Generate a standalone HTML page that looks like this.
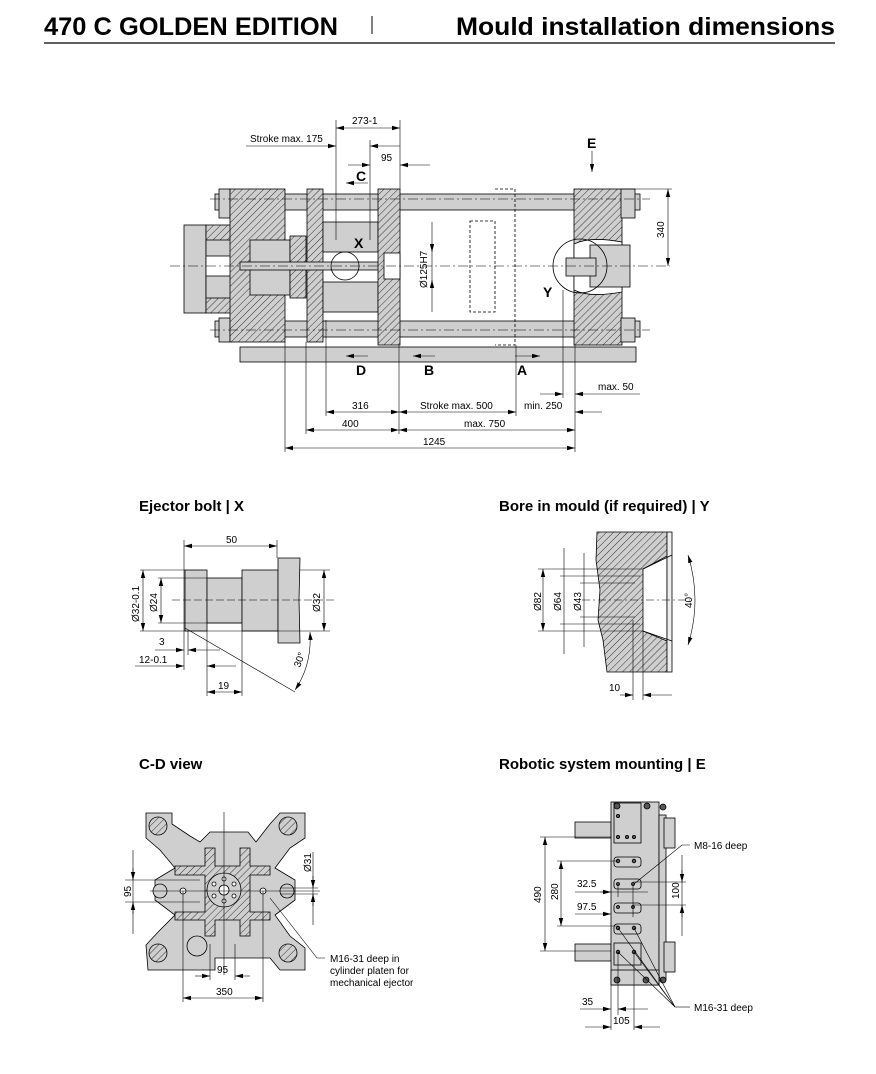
<!DOCTYPE html>
<html><head><meta charset="utf-8"><style>
html,body{margin:0;padding:0;background:#fff;}
svg{display:block;font-family:"Liberation Sans",sans-serif;}
</style></head><body>
<svg width="876" height="1074" viewBox="0 0 876 1074" xmlns="http://www.w3.org/2000/svg">
<defs>
<pattern id="h" width="5" height="5" patternUnits="userSpaceOnUse" patternTransform="rotate(45)">
<rect width="5" height="5" fill="#cfcfcf"/><line x1="0" y1="0" x2="0" y2="5" stroke="#333" stroke-width="1"/>
</pattern>
<marker id="a" markerWidth="8" markerHeight="6" refX="8" refY="3" orient="auto-start-reverse" markerUnits="userSpaceOnUse"><path d="M0,0.8 L8,3 L0,5.2z" fill="#000"/></marker>
</defs>
<!-- header -->
<text x="44" y="35" font-size="25" font-weight="bold" textLength="294" lengthAdjust="spacingAndGlyphs">470 C GOLDEN EDITION</text>
<line x1="372" y1="16" x2="372" y2="34" stroke="#000" stroke-width="1"/>
<text x="456" y="35" font-size="25" font-weight="bold" textLength="379" lengthAdjust="spacingAndGlyphs">Mould installation dimensions</text>
<line x1="44" y1="43" x2="835" y2="43" stroke="#000" stroke-width="1.2"/>

<g stroke="#000" stroke-width="0.8">
<!-- main drawing -->
<rect x="240" y="347" width="396" height="15" fill="#cfcfcf"/>
<rect x="215" y="194" width="425" height="16" fill="#cfcfcf"/>
<rect x="215" y="321" width="425" height="16" fill="#cfcfcf"/>
<rect x="184" y="225" width="22" height="88" fill="#cfcfcf"/>
<rect x="206" y="225" width="46" height="88" fill="url(#h)"/>
<rect x="206" y="240" width="46" height="58" fill="#cfcfcf"/>
<rect x="206" y="256" width="46" height="20" fill="#fff"/>
<rect x="219" y="189" width="11" height="29" fill="#cfcfcf"/>
<rect x="219" y="318" width="11" height="24" fill="#cfcfcf"/>
<rect x="230" y="189" width="55" height="153" fill="url(#h)"/>
<rect x="250" y="240" width="40" height="55" fill="#cfcfcf"/>
<rect x="290" y="236" width="16" height="62" fill="url(#h)"/>
<rect x="307" y="189" width="16" height="153" fill="url(#h)"/>
<rect x="323" y="222" width="55" height="30" fill="#cfcfcf"/>
<rect x="323" y="282" width="55" height="30" fill="#cfcfcf"/>
<rect x="240" y="262" width="150" height="8" fill="#cfcfcf"/>
<rect x="378" y="189" width="22" height="156" fill="url(#h)"/>
<rect x="384" y="253" width="16" height="26" fill="#fff"/>
<circle cx="345" cy="266" r="14" fill="none"/>
<rect x="574" y="189" width="48" height="156" fill="url(#h)"/>
<path d="M574,244 Q590,236 622,242 L622,292 Q590,298 574,290z" fill="#fff"/>
<rect x="590" y="245" width="40" height="42" fill="#cfcfcf"/>
<rect x="566" y="258" width="30" height="18" fill="#cfcfcf"/>
<rect x="621" y="189" width="14" height="29" fill="#cfcfcf"/>
<rect x="621" y="318" width="14" height="24" fill="#cfcfcf"/>
<circle cx="580" cy="266" r="27" fill="none"/>
<g fill="none" stroke-dasharray="3,2">
<path d="M470,221 L495,221 L495,312 L470,312z"/>
<path d="M495,189 L515,189 L515,345 L495,345"/>
</g>
</g>
<g stroke="#000" stroke-width="0.6" fill="none">
<line x1="170" y1="266" x2="670" y2="266" stroke-dasharray="10,3,2,3"/>
<line x1="210" y1="199" x2="650" y2="199" stroke-dasharray="10,3,2,3"/>
<line x1="210" y1="330" x2="650" y2="330" stroke-dasharray="10,3,2,3"/>
<!-- vertical ext lines -->
<line x1="285" y1="342" x2="285" y2="452"/><line x1="306" y1="342" x2="306" y2="434"/>
<line x1="326" y1="320" x2="326" y2="416"/><line x1="399" y1="345" x2="399" y2="434"/>
<line x1="516" y1="345" x2="516" y2="416"/><line x1="563" y1="290" x2="563" y2="398"/>
<line x1="575" y1="345" x2="575" y2="452"/>
<line x1="336" y1="120" x2="336" y2="240"/><line x1="400" y1="120" x2="400" y2="190"/>
<line x1="370" y1="140" x2="370" y2="240"/>
<!-- dims -->
<line x1="563" y1="394" x2="540" y2="394" marker-start="url(#a)"/><line x1="575" y1="394" x2="640" y2="394" marker-start="url(#a)"/>
<line x1="326" y1="412" x2="399" y2="412" marker-start="url(#a)" marker-end="url(#a)"/>
<line x1="399" y1="412" x2="516" y2="412" marker-start="url(#a)" marker-end="url(#a)"/>
<line x1="575" y1="412" x2="602" y2="412" marker-start="url(#a)"/>
<line x1="306" y1="430" x2="399" y2="430" marker-start="url(#a)" marker-end="url(#a)"/>
<line x1="399" y1="430" x2="575" y2="430" marker-start="url(#a)" marker-end="url(#a)"/>
<line x1="285" y1="448" x2="575" y2="448" marker-start="url(#a)" marker-end="url(#a)"/>
<line x1="336" y1="128" x2="400" y2="128" marker-start="url(#a)" marker-end="url(#a)"/>
<line x1="246" y1="146" x2="336" y2="146" marker-end="url(#a)"/>
<line x1="370" y1="146" x2="400" y2="146" marker-start="url(#a)"/>
<line x1="348" y1="165" x2="370" y2="165" marker-end="url(#a)"/>
<line x1="400" y1="165" x2="430" y2="165" marker-start="url(#a)"/>
<line x1="368" y1="183" x2="346" y2="183" marker-end="url(#a)"/>
<line x1="368" y1="356" x2="346" y2="356" marker-end="url(#a)"/>
<line x1="435" y1="356" x2="413" y2="356" marker-end="url(#a)"/>
<line x1="515" y1="356" x2="540" y2="356" marker-end="url(#a)"/>
<line x1="592" y1="151" x2="592" y2="172" marker-end="url(#a)"/>
<line x1="432" y1="222" x2="432" y2="312"/>
<line x1="432" y1="244" x2="432" y2="252" marker-end="url(#a)"/><line x1="432" y1="288" x2="432" y2="280" marker-end="url(#a)"/>
<line x1="622" y1="189" x2="672" y2="189"/>
<line x1="668" y1="189" x2="668" y2="266" marker-start="url(#a)" marker-end="url(#a)"/>
</g>
<g font-size="10">
<text x="352" y="124">273-1</text>
<text x="250" y="142">Stroke max. 175</text>
<text x="381" y="161">95</text>
<text x="598" y="390">max. 50</text>
<text x="352" y="409">316</text>
<text x="420" y="409">Stroke max. 500</text>
<text x="524" y="409">min. 250</text>
<text x="342" y="427">400</text>
<text x="464" y="427">max. 750</text>
<text x="423" y="445">1245</text>
<text transform="translate(427,288) rotate(-90)">Ø125H7</text>
<text transform="translate(664,238) rotate(-90)">340</text>
</g>
<g font-size="14" font-weight="bold">
<text x="356" y="181">C</text><text x="356" y="375">D</text><text x="424" y="375">B</text><text x="517" y="375">A</text>
<text x="354" y="248">X</text><text x="543" y="297">Y</text><text x="587" y="148">E</text>
</g>

<!-- section titles -->
<g font-size="15" font-weight="bold">
<text x="139" y="511">Ejector bolt | X</text>
<text x="499" y="511">Bore in mould (if required) | Y</text>
<text x="139" y="769">C-D view</text>
<text x="499" y="769">Robotic system mounting | E</text>
</g>

<!-- Ejector bolt -->
<g stroke="#000" stroke-width="0.8">
<rect x="185" y="570" width="22" height="61" fill="#cfcfcf"/>
<rect x="207" y="578" width="35" height="45" fill="#cfcfcf"/>
<rect x="242" y="570" width="36" height="61" fill="#cfcfcf"/>
<path d="M278,558 L300,558 L299,600 L300,643 L278,643z" fill="#cfcfcf"/>
</g>
<g stroke="#000" stroke-width="0.6" fill="none">
<line x1="172" y1="600" x2="335" y2="600" stroke-dasharray="8,3"/>
<line x1="184" y1="540" x2="184" y2="670"/><line x1="277" y1="540" x2="277" y2="558"/>
<line x1="184" y1="546" x2="277" y2="546" marker-start="url(#a)" marker-end="url(#a)"/>
<line x1="140" y1="570" x2="185" y2="570"/><line x1="140" y1="631" x2="330" y2="631"/>
<line x1="158" y1="578" x2="207" y2="578"/><line x1="158" y1="623" x2="242" y2="623"/>
<line x1="300" y1="570" x2="330" y2="570"/>
<line x1="143" y1="570" x2="143" y2="631" marker-start="url(#a)" marker-end="url(#a)"/>
<line x1="161" y1="578" x2="161" y2="623" marker-start="url(#a)" marker-end="url(#a)"/>
<line x1="324" y1="570" x2="324" y2="631" marker-start="url(#a)" marker-end="url(#a)"/>
<line x1="185" y1="628" x2="295" y2="692"/>
<line x1="188" y1="631" x2="188" y2="655"/>
<line x1="155" y1="650" x2="184" y2="650" marker-end="url(#a)"/><line x1="220" y1="650" x2="188" y2="650" marker-end="url(#a)"/>
<line x1="135" y1="666" x2="184" y2="666" marker-end="url(#a)"/><line x1="236" y1="666" x2="207" y2="666" marker-end="url(#a)"/>
<line x1="207" y1="631" x2="207" y2="696"/><line x1="242" y1="631" x2="242" y2="696"/>
<line x1="207" y1="692" x2="242" y2="692" marker-start="url(#a)" marker-end="url(#a)"/>
<path d="M310,632 Q312,665 295,690" marker-start="url(#a)" marker-end="url(#a)"/>
</g>
<g font-size="10">
<text x="226" y="543">50</text>
<text transform="translate(139,622) rotate(-90)">Ø32-0.1</text>
<text transform="translate(157,612) rotate(-90)">Ø24</text>
<text transform="translate(320,612) rotate(-90)">Ø32</text>
<text x="159" y="645">3</text><text x="139" y="663">12-0.1</text><text x="218" y="689">19</text>
<text transform="translate(300,668) rotate(-70)">30°</text>
</g>

<!-- Bore -->
<g stroke="#000" stroke-width="0.8">
<path d="M597,532 L667,532 L667,672 L607,672 L603,640 L598,620 L600,590 L596,560z" fill="url(#h)"/>
<path d="M643,569 L667,556 L667,641 L643,631z" fill="#fff"/>
<rect x="667" y="532" width="5" height="140" fill="#eee"/>
<path d="M643,569 L672,555 M643,631 L672,641" fill="none"/>
</g>
<g stroke="#000" stroke-width="0.6" fill="none">
<line x1="582" y1="600" x2="690" y2="600" stroke-dasharray="8,3,2,3"/>
<line x1="538" y1="569" x2="643" y2="569"/><line x1="538" y1="631" x2="643" y2="631"/>
<line x1="560" y1="576" x2="640" y2="576"/><line x1="560" y1="624" x2="640" y2="624"/>
<line x1="580" y1="583" x2="635" y2="583"/><line x1="580" y1="617" x2="635" y2="617"/>
<line x1="543" y1="569" x2="543" y2="631" marker-start="url(#a)" marker-end="url(#a)"/>
<line x1="564" y1="548" x2="564" y2="654"/>
<line x1="584" y1="553" x2="584" y2="647"/>
<line x1="633" y1="620" x2="633" y2="700"/><line x1="643" y1="631" x2="643" y2="700"/>
<line x1="620" y1="695" x2="633" y2="695" marker-end="url(#a)"/><line x1="672" y1="695" x2="643" y2="695" marker-end="url(#a)"/>
<path d="M688,555 Q702,600 688,645" marker-start="url(#a)" marker-end="url(#a)"/>
</g>
<g font-size="10">
<text transform="translate(541,611) rotate(-90)">Ø82</text>
<text transform="translate(561,611) rotate(-90)">Ø64</text>
<text transform="translate(581,611) rotate(-90)">Ø43</text>
<text transform="translate(692,608) rotate(-90)">40°</text>
<text x="609" y="691">10</text>
</g>

<!-- C-D view -->
<g stroke="#000" stroke-width="0.8">
<path d="M146,813 L172,813 L172,824 L190,836 L200,842 L210,832 L248,832 L256,842 L270,824 L280,813 L305,813 L305,838 L290,848 L275,868 L295,880 L295,900 L275,915 L290,936 L305,948 L305,970 L280,970 L270,958 L215,958 L215,970 L148,970 L146,945 L160,930 L175,915 L155,900 L155,880 L175,868 L160,850 L146,838z" fill="#cfcfcf"/>
<path d="M175,866 L205,866 L205,848 L215,848 L215,866 L240,866 L240,848 L250,848 L250,866 L270,866 L270,875 L250,875 L250,912 L270,912 L270,920 L250,920 L250,936 L240,936 L240,920 L215,920 L215,936 L205,936 L205,920 L175,920 L175,912 L205,912 L205,875 L175,875z" fill="url(#h)"/>
<circle cx="224" cy="890" r="17" fill="#cfcfcf"/>
<circle cx="224" cy="890" r="5" fill="#fff"/>
<circle cx="158" cy="826" r="9" fill="url(#h)"/><circle cx="288" cy="826" r="9" fill="url(#h)"/>
<circle cx="158" cy="953" r="9" fill="url(#h)"/><circle cx="288" cy="953" r="9" fill="url(#h)"/>
<circle cx="160" cy="891" r="7" fill="#cfcfcf"/><circle cx="287" cy="891" r="7" fill="#cfcfcf"/>
<circle cx="183" cy="891" r="3" fill="#fff"/><circle cx="263" cy="891" r="3" fill="#fff"/>
<circle cx="197" cy="946" r="10" fill="#cfcfcf"/>
<g fill="#fff"><circle cx="224" cy="879" r="2"/><circle cx="224" cy="901" r="2"/><circle cx="214" cy="884" r="2"/><circle cx="234" cy="884" r="2"/><circle cx="214" cy="896" r="2"/><circle cx="234" cy="896" r="2"/></g>
</g>
<g stroke="#000" stroke-width="0.6" fill="none">
<line x1="224" y1="812" x2="224" y2="975"/>
<line x1="150" y1="891" x2="320" y2="891"/>
<line x1="125" y1="880" x2="200" y2="880"/><line x1="125" y1="902" x2="200" y2="902"/>
<line x1="133" y1="850" x2="133" y2="934"/>
<line x1="133" y1="868" x2="133" y2="880" marker-end="url(#a)"/><line x1="133" y1="914" x2="133" y2="902" marker-end="url(#a)"/>
<line x1="280" y1="888" x2="318" y2="888"/><line x1="280" y1="894" x2="318" y2="894"/>
<line x1="313" y1="852" x2="313" y2="925"/>
<line x1="313" y1="876" x2="313" y2="888" marker-end="url(#a)"/><line x1="313" y1="906" x2="313" y2="894" marker-end="url(#a)"/>
<line x1="183" y1="891" x2="183" y2="1002"/><line x1="263" y1="891" x2="263" y2="1002"/>
<line x1="210" y1="944" x2="210" y2="980"/><line x1="235" y1="944" x2="235" y2="980"/>
<line x1="195" y1="976" x2="210" y2="976" marker-end="url(#a)"/><line x1="250" y1="976" x2="235" y2="976" marker-end="url(#a)"/>
<line x1="183" y1="998" x2="263" y2="998" marker-start="url(#a)" marker-end="url(#a)"/>
<polyline points="270,898 317,958 325,958"/>
</g>
<g font-size="10">
<text transform="translate(131,897) rotate(-90)">95</text>
<text transform="translate(311,872) rotate(-90)">Ø31</text>
<text x="217" y="973">95</text><text x="216" y="995">350</text>
<text x="330" y="962">M16-31 deep in</text>
<text x="330" y="974">cylinder platen for</text>
<text x="330" y="986">mechanical ejector</text>
</g>

<!-- Robotic -->
<g stroke="#000" stroke-width="0.8">
<rect x="575" y="822" width="36" height="16" fill="#cfcfcf"/>
<rect x="575" y="944" width="36" height="17" fill="#cfcfcf"/>
<rect x="611" y="802" width="48" height="183" fill="#cfcfcf"/>
<rect x="659" y="815" width="7" height="165" fill="#cfcfcf"/>
<rect x="664" y="818" width="11" height="30" fill="#cfcfcf"/>
<rect x="664" y="942" width="11" height="30" fill="#cfcfcf"/>
<rect x="614" y="803" width="27" height="40" fill="#cfcfcf"/>
<rect x="614" y="857" width="27" height="10" rx="3" fill="#cfcfcf"/>
<rect x="614" y="879" width="27" height="10" rx="3" fill="#cfcfcf"/>
<rect x="614" y="903" width="27" height="10" rx="3" fill="#cfcfcf"/>
<rect x="614" y="924" width="27" height="10" rx="3" fill="#cfcfcf"/>
<rect x="614" y="943" width="27" height="22" fill="#cfcfcf"/>
<rect x="611" y="970" width="48" height="15" fill="#cfcfcf"/>
<g fill="#555"><circle cx="617" cy="806" r="3"/><circle cx="647" cy="806" r="3"/><circle cx="663" cy="807" r="3"/><circle cx="617" cy="980" r="3"/><circle cx="646" cy="980" r="3"/><circle cx="663" cy="980" r="3"/>
<circle cx="618" cy="861" r="1.8"/><circle cx="634" cy="861" r="1.8"/><circle cx="618" cy="884" r="1.5"/><circle cx="633" cy="884" r="1.5"/><circle cx="618" cy="907" r="1.5"/><circle cx="633" cy="907" r="1.5"/><circle cx="618" cy="928" r="1.8"/><circle cx="634" cy="928" r="1.8"/><circle cx="618" cy="952" r="1.8"/><circle cx="634" cy="952" r="1.8"/>
<circle cx="618" cy="837" r="1.6"/><circle cx="627" cy="837" r="1.6"/><circle cx="634" cy="837" r="1.6"/><circle cx="618" cy="816" r="1.6"/></g>
</g>
<g stroke="#000" stroke-width="0.6" fill="none">
<line x1="540" y1="837" x2="611" y2="837"/><line x1="540" y1="951" x2="611" y2="951"/>
<line x1="545" y1="837" x2="545" y2="951" marker-start="url(#a)" marker-end="url(#a)"/>
<line x1="557" y1="861" x2="618" y2="861"/><line x1="557" y1="926" x2="618" y2="926"/>
<line x1="561" y1="861" x2="561" y2="926" marker-start="url(#a)" marker-end="url(#a)"/>
<line x1="575" y1="892" x2="611" y2="892" marker-end="url(#a)"/><line x1="600" y1="892" x2="648" y2="892"/>
<line x1="575" y1="914" x2="611" y2="914" marker-end="url(#a)"/>
<line x1="618" y1="884" x2="618" y2="897"/><line x1="633" y1="884" x2="633" y2="917"/>
<line x1="633" y1="882" x2="686" y2="882"/><line x1="633" y1="905" x2="686" y2="905"/>
<line x1="682" y1="855" x2="682" y2="936"/>
<line x1="682" y1="870" x2="682" y2="882" marker-end="url(#a)"/><line x1="682" y1="917" x2="682" y2="905" marker-end="url(#a)"/>
<polyline points="634,884 682,845 690,845"/>
<line x1="618" y1="928" x2="675" y2="1007"/><line x1="634" y1="928" x2="675" y2="1007"/>
<line x1="618" y1="952" x2="675" y2="1007"/><line x1="634" y1="952" x2="675" y2="1007"/>
<line x1="675" y1="1007" x2="690" y2="1007"/>
<line x1="611" y1="985" x2="611" y2="1030"/><line x1="618" y1="952" x2="618" y2="1015"/><line x1="634" y1="952" x2="634" y2="1030"/>
<line x1="580" y1="1009" x2="611" y2="1009" marker-end="url(#a)"/><line x1="648" y1="1009" x2="618" y2="1009" marker-end="url(#a)"/>
<line x1="585" y1="1027" x2="611" y2="1027" marker-end="url(#a)"/><line x1="660" y1="1027" x2="634" y2="1027" marker-end="url(#a)"/>
</g>
<g font-size="10">
<text transform="translate(541,903) rotate(-90)">490</text>
<text transform="translate(558,900) rotate(-90)">280</text>
<text x="577" y="887">32.5</text><text x="577" y="910">97.5</text>
<text transform="translate(679,899) rotate(-90)">100</text>
<text x="694" y="849">M8-16 deep</text>
<text x="694" y="1011">M16-31 deep</text>
<text x="582" y="1005">35</text><text x="613" y="1024">105</text>
</g>
</svg>
</body></html>
